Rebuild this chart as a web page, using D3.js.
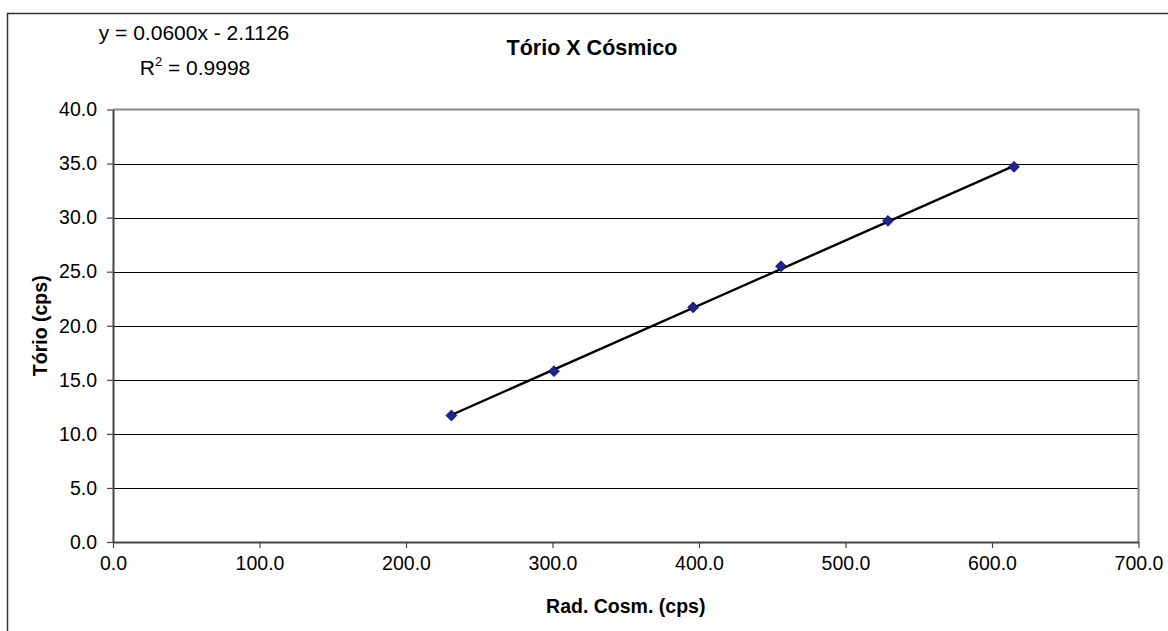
<!DOCTYPE html>
<html>
<head>
<meta charset="utf-8">
<script src="https://cdn.jsdelivr.net/npm/d3@7"></script>
<style>
  html, body { margin: 0; padding: 0; background: #fff; }
  svg { display: block; font-family: Arial, "Liberation Sans", sans-serif; }
</style>
</head>
<body>
<svg id="chart" width="1168" height="631"></svg>
<script>
// Measured counts: cosmic radiation vs thorium window
const radCosm = [231, 301, 396, 456, 529, 615];
const torio   = [11.7, 15.8, 21.7, 25.5, 29.7, 34.7];

// Linear trendline reported on the chart
const slope = 0.0600;
const intercept = -2.1126;
const rSquared = "0.9998";

const xTicks = [0, 100, 200, 300, 400, 500, 600, 700];
const yTicks = [0, 5, 10, 15, 20, 25, 30, 35, 40];

const title = "Tório X Cósmico";
const xTitle = "Rad. Cosm. (cps)";
const yTitle = "Tório (cps)";

const svg = d3.select("#chart");
const plot = { left: 113, right: 1138.5, top: 109.5, bottom: 542 };

const x = d3.scaleLinear().domain([0, 700]).range([plot.left, plot.right]);
const y = d3.scaleLinear().domain([0, 40]).range([plot.bottom, plot.top]);

// Chart area frame
svg.append("rect")
  .attr("x", 7.5).attr("y", 13.5)
  .attr("width", 1180).attr("height", 640)
  .attr("fill", "#fff")
  .attr("stroke", "#333").attr("stroke-width", 1.5);

// Horizontal gridlines
svg.append("g")
  .selectAll("line")
  .data(yTicks.filter(t => t > 0 && t < 40))
  .join("line")
  .attr("x1", plot.left).attr("x2", plot.right)
  .attr("y1", d => Math.round(y(d)) + 0.5).attr("y2", d => Math.round(y(d)) + 0.5)
  .attr("stroke", "#000").attr("stroke-width", 1.2);

// Plot border (top and right in grey)
svg.append("path")
  .attr("d", `M${plot.left},${plot.top}H${plot.right}V${plot.bottom}`)
  .attr("fill", "none").attr("stroke", "#888").attr("stroke-width", 2);

// X axis
const xAxis = svg.append("g")
  .attr("transform", `translate(0,${plot.bottom})`)
  .call(d3.axisBottom(x).tickValues(xTicks).tickFormat(d3.format(".1f")).tickSize(6).tickSizeOuter(0).tickPadding(8));
xAxis.select(".domain").attr("stroke", "#444").attr("stroke-width", 2);
xAxis.selectAll(".tick line").attr("stroke", "#444").attr("stroke-width", 1.2);
xAxis.selectAll(".tick text").attr("font-size", "19.5px").attr("fill", "#000")
  .attr("font-family", "Arial, 'Liberation Sans', sans-serif");

// Y axis
const yAxis = svg.append("g")
  .attr("transform", `translate(${plot.left},0)`)
  .call(d3.axisLeft(y).tickValues(yTicks).tickFormat(d3.format(".1f")).tickSize(6).tickSizeOuter(0).tickPadding(10));
yAxis.select(".domain").attr("stroke", "#444").attr("stroke-width", 2);
yAxis.selectAll(".tick line").attr("stroke", "#444").attr("stroke-width", 1.2);
yAxis.selectAll(".tick text").attr("font-size", "19.5px").attr("fill", "#000")
  .attr("font-family", "Arial, 'Liberation Sans', sans-serif");

// Trendline across the measured range
const xMin = d3.min(radCosm), xMax = d3.max(radCosm);
svg.append("line")
  .attr("x1", x(xMin)).attr("y1", y(slope * xMin + intercept))
  .attr("x2", x(xMax)).attr("y2", y(slope * xMax + intercept))
  .attr("stroke", "#000").attr("stroke-width", 2.4);

// Diamond markers
const diamond = d3.symbol().type(d3.symbolDiamond2).size(75);
svg.append("g")
  .selectAll("path")
  .data(radCosm.map((v, i) => [v, torio[i]]))
  .join("path")
  .attr("transform", d => `translate(${x(d[0])},${y(d[1])})`)
  .attr("d", diamond)
  .attr("fill", "#23238f").attr("stroke", "#000066").attr("stroke-width", 0.8);

// Titles
svg.append("text")
  .attr("x", 592).attr("y", 55)
  .attr("text-anchor", "middle")
  .attr("font-size", "21.5px").attr("font-weight", "bold")
  .text(title);

svg.append("text")
  .attr("x", x(350)).attr("y", 613)
  .attr("text-anchor", "middle")
  .attr("font-size", "19.5px").attr("font-weight", "bold")
  .text(xTitle);

svg.append("text")
  .attr("transform", `translate(47,${(plot.top + plot.bottom) / 2}) rotate(-90)`)
  .attr("text-anchor", "middle")
  .attr("font-size", "19.5px").attr("font-weight", "bold")
  .text(yTitle);

// Trendline equation and R²
const fmt4 = d3.format(".4f");
svg.append("text")
  .attr("x", 194).attr("y", 40)
  .attr("text-anchor", "middle")
  .attr("font-size", "21px")
  .text(`y = ${fmt4(slope)}x - ${fmt4(-intercept)}`);

const r2 = svg.append("text")
  .attr("x", 195).attr("y", 75)
  .attr("text-anchor", "middle")
  .attr("font-size", "21px");
r2.append("tspan").text("R");
r2.append("tspan").attr("dy", -9).attr("font-size", "13px").text("2");
r2.append("tspan").attr("dy", 9).text(` = ${rSquared}`);
</script>
</body>
</html>
